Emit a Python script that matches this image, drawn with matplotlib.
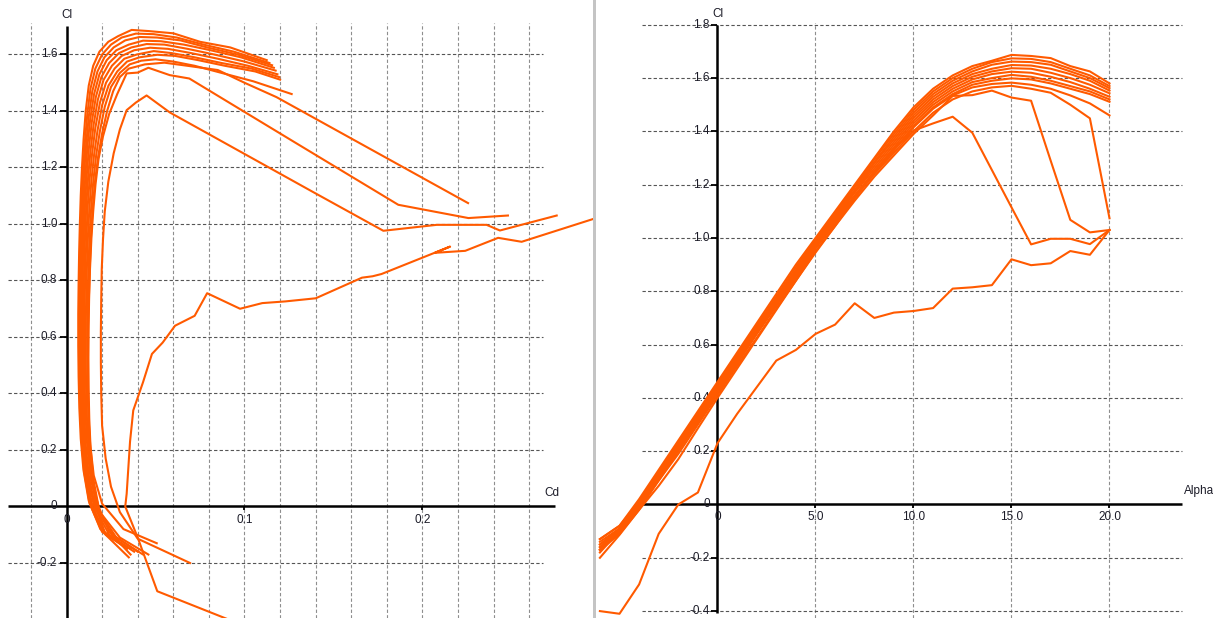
import matplotlib
matplotlib.use('agg')
import matplotlib.pyplot as plt
from matplotlib.patches import Rectangle

# polar data, one point per alpha step
alpha = list(range(-6, 21))

# lowest Re polar
cl_a = [-0.40, -0.41, -0.30, -0.11, 0.00, 0.045, 0.23, 0.34, 0.44, 0.54, 0.58, 0.64, 0.675, 0.755, 0.70, 0.72, 0.726,
        0.737, 0.81, 0.815, 0.823, 0.92, 0.898, 0.905, 0.951, 0.937, 1.03]
cd_a = [0.115, 0.095, 0.051, 0.040, 0.033, 0.0338, 0.0357, 0.0375, 0.043, 0.048, 0.054, 0.061, 0.072, 0.079, 0.0975,
        0.110, 0.123, 0.140, 0.166, 0.172, 0.177, 0.2155, 0.207, 0.224, 0.2425, 0.2557, 0.302]
cl_b = [-0.20, -0.114, -0.02, 0.07, 0.17, 0.286, 0.40, 0.51, 0.62, 0.73, 0.84, 0.945, 1.045, 1.15, 1.25, 1.335, 1.403,
        1.43, 1.455, 1.395, 1.255, 1.115, 0.976, 0.997, 0.997, 0.977, 1.03]
cd_b = [0.0694, 0.040, 0.030, 0.025, 0.022, 0.0200, 0.0195, 0.0193, 0.0193, 0.0195, 0.0198, 0.0205, 0.0215, 0.0235,
        0.0265, 0.030, 0.0338, 0.039, 0.045, 0.058, 0.098, 0.138, 0.178, 0.208, 0.236, 0.2435, 0.2754]
cl_c = [-0.18, -0.10, -0.01, 0.09, 0.19, 0.30, 0.41, 0.52, 0.625, 0.735, 0.84, 0.95, 1.045, 1.14, 1.23, 1.31, 1.39,
        1.46, 1.533, 1.536, 1.553, 1.527, 1.515, 1.29, 1.068, 1.021, 1.03]
cd_c = [0.035, 0.022, 0.017, 0.0145, 0.0130, 0.0125, 0.0122, 0.0122, 0.0124, 0.0127, 0.0132, 0.0140, 0.0150, 0.0163,
        0.0180, 0.0205, 0.0240, 0.0285, 0.0338, 0.0400, 0.0460, 0.0580, 0.0690, 0.1280, 0.1864, 0.2258, 0.2480]
cl_d = [-0.17, -0.09, 0.00, 0.10, 0.21, 0.31, 0.42, 0.53, 0.64, 0.745, 0.85, 0.96, 1.055, 1.15, 1.24, 1.32, 1.40,
        1.47, 1.52, 1.55, 1.565, 1.571, 1.56, 1.545, 1.50, 1.449, 1.074]
cd_d = [0.036, 0.024, 0.018, 0.0150, 0.0135, 0.0128, 0.0124, 0.0122, 0.0122, 0.0126, 0.0131, 0.0138, 0.0147, 0.0160,
        0.0178, 0.0200, 0.0228, 0.0262, 0.0300, 0.0350, 0.0440, 0.0550, 0.0680, 0.0850, 0.1000, 0.1180, 0.2256]
cl_e = [-0.13, -0.08, 0.01, 0.11, 0.22, 0.32, 0.43, 0.54, 0.645, 0.75, 0.855, 0.965, 1.06, 1.155, 1.245, 1.33, 1.415,
        1.485, 1.535, 1.565, 1.578, 1.583, 1.575, 1.56, 1.535, 1.505, 1.46]
cd_e = [0.0507, 0.032, 0.020, 0.0153, 0.0133, 0.0123, 0.0118, 0.0116, 0.0116, 0.0119, 0.0124, 0.0130, 0.0139, 0.0151,
        0.0167, 0.0188, 0.0215, 0.0250, 0.0300, 0.0355, 0.0420, 0.0500, 0.0600, 0.0720, 0.0870, 0.1050, 0.1265]

# the close bunch of higher Re polars (b0 lowest .. b7 highest)
cl_b0 = [-0.17, -0.11, -0.02, 0.09, 0.20, 0.31, 0.42, 0.53, 0.64, 0.75, 0.855, 0.965, 1.06, 1.155, 1.245, 1.33, 1.42,
         1.49, 1.54, 1.575, 1.59, 1.599, 1.595, 1.58, 1.56, 1.54, 1.511]
cl_b1 = [-0.17, -0.11, -0.01, 0.10, 0.21, 0.32, 0.43, 0.54, 0.645, 0.755, 0.86, 0.97, 1.07, 1.16, 1.25, 1.34, 1.43,
         1.50, 1.55, 1.585, 1.60, 1.612, 1.605, 1.59, 1.57, 1.55, 1.520]
cl_b2 = [-0.16, -0.10, -0.01, 0.10, 0.21, 0.32, 0.43, 0.54, 0.65, 0.76, 0.865, 0.975, 1.075, 1.17, 1.26, 1.35, 1.44,
         1.51, 1.56, 1.595, 1.615, 1.624, 1.62, 1.605, 1.585, 1.56, 1.530]
cl_b3 = [-0.16, -0.10, 0.00, 0.11, 0.22, 0.33, 0.44, 0.55, 0.66, 0.765, 0.87, 0.98, 1.08, 1.175, 1.27, 1.36, 1.45,
         1.52, 1.57, 1.605, 1.625, 1.637, 1.635, 1.62, 1.60, 1.575, 1.543]
cl_b4 = [-0.15, -0.10, 0.00, 0.11, 0.22, 0.33, 0.44, 0.55, 0.66, 0.77, 0.875, 0.985, 1.085, 1.18, 1.28, 1.37, 1.46,
         1.53, 1.58, 1.615, 1.635, 1.649, 1.647, 1.635, 1.615, 1.59, 1.553]
cl_b5 = [-0.15, -0.09, 0.01, 0.12, 0.23, 0.34, 0.45, 0.56, 0.67, 0.775, 0.88, 0.99, 1.09, 1.19, 1.285, 1.38, 1.47,
         1.54, 1.59, 1.625, 1.65, 1.662, 1.66, 1.65, 1.625, 1.60, 1.562]
cl_b6 = [-0.14, -0.09, 0.01, 0.12, 0.23, 0.34, 0.45, 0.56, 0.67, 0.78, 0.89, 0.995, 1.095, 1.195, 1.295, 1.39, 1.48,
         1.55, 1.60, 1.635, 1.66, 1.674, 1.672, 1.66, 1.635, 1.61, 1.570]
cl_b7 = [-0.13, -0.08, 0.02, 0.13, 0.24, 0.35, 0.46, 0.57, 0.68, 0.79, 0.90, 1.00, 1.10, 1.20, 1.30, 1.40, 1.49,
         1.56, 1.61, 1.645, 1.665, 1.687, 1.683, 1.675, 1.645, 1.625, 1.580]
cd_b0 = [0.046, 0.030, 0.0188, 0.0144, 0.0125, 0.0115, 0.0110, 0.0108, 0.0108, 0.0111, 0.0115, 0.0121, 0.0129, 0.0140,
         0.0155, 0.0174, 0.0200, 0.0236, 0.0285, 0.0340, 0.0410, 0.0510, 0.0610, 0.0740, 0.0890, 0.1060, 0.1200]
cd_b1 = [0.043, 0.028, 0.0176, 0.0135, 0.0117, 0.0107, 0.0102, 0.0100, 0.0100, 0.0103, 0.0107, 0.0113, 0.0120, 0.0130,
         0.0144, 0.0162, 0.0188, 0.0222, 0.0270, 0.0325, 0.0395, 0.0490, 0.0590, 0.0720, 0.0870, 0.1040, 0.1195]
cd_b2 = [0.040, 0.026, 0.0165, 0.0127, 0.0109, 0.0100, 0.0095, 0.0093, 0.0093, 0.0096, 0.0100, 0.0105, 0.0112, 0.0122,
         0.0135, 0.0152, 0.0176, 0.0208, 0.0255, 0.0310, 0.0380, 0.0470, 0.0570, 0.0700, 0.0850, 0.1020, 0.1185]
cd_b3 = [0.038, 0.024, 0.0155, 0.0119, 0.0102, 0.0093, 0.0089, 0.0087, 0.0087, 0.0089, 0.0093, 0.0098, 0.0105, 0.0114,
         0.0126, 0.0142, 0.0165, 0.0196, 0.0240, 0.0295, 0.0365, 0.0450, 0.0550, 0.0680, 0.0830, 0.1000, 0.1175]
cd_b4 = [0.036, 0.022, 0.0146, 0.0112, 0.0096, 0.0087, 0.0083, 0.0081, 0.0081, 0.0083, 0.0087, 0.0092, 0.0098, 0.0107,
         0.0118, 0.0133, 0.0155, 0.0185, 0.0226, 0.0280, 0.0350, 0.0430, 0.0530, 0.0660, 0.0810, 0.0980, 0.1165]
cd_b5 = [0.034, 0.021, 0.0138, 0.0106, 0.0090, 0.0082, 0.0078, 0.0076, 0.0076, 0.0078, 0.0081, 0.0086, 0.0092, 0.0100,
         0.0111, 0.0125, 0.0145, 0.0174, 0.0213, 0.0265, 0.0330, 0.0410, 0.0510, 0.0640, 0.0790, 0.0960, 0.1155]
cd_b6 = [0.032, 0.020, 0.0130, 0.0100, 0.0085, 0.0077, 0.0073, 0.0071, 0.0071, 0.0073, 0.0076, 0.0080, 0.0086, 0.0094,
         0.0104, 0.0117, 0.0135, 0.0162, 0.0200, 0.0250, 0.0310, 0.0390, 0.0490, 0.0620, 0.0770, 0.0940, 0.1140]
cd_b7 = [0.030, 0.019, 0.0125, 0.0095, 0.0080, 0.0072, 0.0068, 0.0066, 0.0066, 0.0068, 0.0071, 0.0075, 0.0080, 0.0087,
         0.0096, 0.0108, 0.0125, 0.0150, 0.0185, 0.0235, 0.0290, 0.0366, 0.0460, 0.0600, 0.0750, 0.0920, 0.1125]

polars = [(cl_a, cd_a), (cl_b, cd_b), (cl_c, cd_c), (cl_d, cd_d), (cl_e, cd_e),
          (cl_b0, cd_b0), (cl_b1, cd_b1), (cl_b2, cd_b2), (cl_b3, cd_b3),
          (cl_b4, cd_b4), (cl_b5, cd_b5), (cl_b6, cd_b6), (cl_b7, cd_b7)]

# axis ticks / labels
cd_grid = [-0.02, 0.02, 0.04, 0.06, 0.08, 0.10, 0.12, 0.14, 0.16, 0.18, 0.20, 0.22, 0.24, 0.26]
cd_ticks = [0.1, 0.2]
cd_labels = ["0.1", "0.2"]
cl_ticks_l = [-0.2, 0.2, 0.4, 0.6, 0.8, 1.0, 1.2, 1.4, 1.6]
cl_labels_l = ["-0.2", "0.2", "0.4", "0.6", "0.8", "1.0", "1.2", "1.4", "1.6"]
al_ticks = [5, 10, 15, 20]
al_labels = ["5.0", "10.0", "15.0", "20.0"]
cl_ticks_r = [-0.4, -0.2, 0.2, 0.4, 0.6, 0.8, 1.0, 1.2, 1.4, 1.6, 1.8]
cl_labels_r = ["-0.4", "-0.2", "0.2", "0.4", "0.6", "0.8", "1.0", "1.2", "1.4", "1.6", "1.8"]

plt.rcParams['font.family'] = ['Liberation Sans', 'DejaVu Sans']

orange = '#ff5a00'
gh = '#555555'
gv = '#8e8e8e'
txt = '#1c1c28'
dash = (0, (3, 2))
fs = 8.5

W, H = 1213.0, 618.0
fig = plt.figure(figsize=(W/100, H/100), dpi=100)
fig.patch.set_facecolor('white')

#### left: Cl vs Cd ####
ax1 = fig.add_axes([0, 0, 593/W, 1])
ax1.set_xlim(-0.03736, 0.29579)
ax1.set_ylim(-0.3947, 1.7929)
ax1.axis('off')

ax1.vlines(cd_grid, -0.3947, 1.7115, colors=gv, linestyles=dash, lw=0.8, zorder=1)
ax1.hlines(cl_ticks_l, -0.0329, 0.2677, colors=gh, linestyles=dash, lw=0.8, zorder=1)
ax1.hlines(0, -0.0329, 0.2745, colors='k', lw=1.8, zorder=2)
ax1.vlines(0, -0.3947, 1.701, colors='k', lw=1.8, zorder=2)
ax1.hlines(cl_ticks_l, -0.0036, 0, colors='k', lw=1.3, zorder=2)
ax1.vlines(cd_ticks, -0.014, 0, colors='k', lw=1.3, zorder=2)

for v, s in zip(cl_ticks_l, cl_labels_l):
    ax1.text(-0.0053, v, s, ha='right', va='center', fontsize=fs, color=txt, zorder=2.5)
ax1.text(-0.0053, 0, "0", ha='right', va='center', fontsize=fs, color=txt, zorder=2.5)
ax1.text(0, -0.026, "0", ha='center', va='top', fontsize=fs, color=txt, zorder=2.5)
for v, s in zip(cd_ticks, cd_labels):
    ax1.text(v, -0.026, s, ha='center', va='top', fontsize=fs, color=txt, zorder=2.5)
ax1.text(0, 1.740, "Cl", ha='center', va='center', fontsize=fs, color=txt)
ax1.text(0.2728, 0.048, "Cd", ha='center', va='center', fontsize=fs, color=txt)

for cl, cd in polars:
    ax1.plot(cd, cl, color=orange, lw=1.5, zorder=3)

#### right: Cl vs alpha ####
ax2 = fig.add_axes([596/W, 0, (W-596)/W, 1])
ax2.set_xlim(-6.199, 25.281)
ax2.set_ylim(-0.4259, 1.893)
ax2.axis('off')

ax2.vlines(al_ticks, -0.4259, 1.807, colors=gv, linestyles=dash, lw=0.8, zorder=1)
ax2.hlines(cl_ticks_r, -3.852, 23.70, colors=gh, linestyles=dash, lw=0.8, zorder=1)
ax2.hlines(0, -3.852, 23.70, colors='k', lw=1.8, zorder=2)
ax2.vlines(0, -0.409, 1.80, colors='k', lw=1.8, zorder=2)
ax2.hlines(cl_ticks_r, -0.31, 0, colors='k', lw=1.3, zorder=2)
ax2.vlines(al_ticks, -0.015, 0, colors='k', lw=1.3, zorder=2)

for v, s in zip(cl_ticks_r, cl_labels_r):
    ax2.text(-0.40, v, s, ha='right', va='center', fontsize=fs, color=txt, zorder=2.5)
ax2.text(-0.40, 0, "0", ha='right', va='center', fontsize=fs, color=txt, zorder=2.5)
ax2.text(0, -0.024, "0", ha='center', va='top', fontsize=fs, color=txt, zorder=2.5)
for v, s in zip(al_ticks, al_labels):
    ax2.text(v, -0.024, s, ha='center', va='top', fontsize=fs, color=txt, zorder=2.5)
ax2.text(0, 1.840, "Cl", ha='center', va='center', fontsize=fs, color=txt)
ax2.text(23.80, 0.051, "Alpha", ha='left', va='center', fontsize=fs, color=txt)

for cl, cd in polars:
    ax2.plot(alpha, cl, color=orange, lw=1.5, zorder=3)

# grey splitter between the two graphs
fig.patches.append(Rectangle((593/W, 0), 3/W, 1, transform=fig.transFigure,
                             facecolor='#c4c4c4', edgecolor='none'))

plt.savefig('out.png', dpi=100)
plt.close()
